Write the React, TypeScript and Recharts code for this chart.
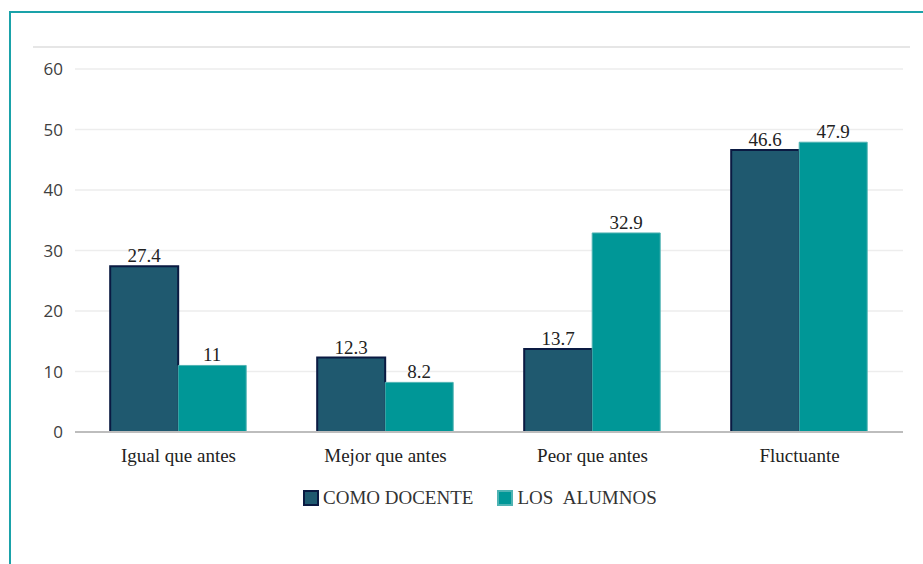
import { BarChart, Bar, XAxis, YAxis, CartesianGrid, Legend, LabelList } from "recharts"

const categorias = ["Igual que antes", "Mejor que antes", "Peor que antes", "Fluctuante"]
const comoDocente = [27.4, 12.3, 13.7, 46.6]
const losAlumnos = [11, 8.2, 32.9, 47.9]
const ticksY = [0, 10, 20, 30, 40, 50, 60]

const SERIF = '"Liberation Serif", "Times New Roman", serif'
const SANS = '"Open Sans", "Noto Sans", sans-serif'

const data = categorias.map((categoria, i) => ({
  categoria,
  docente: comoDocente[i],
  alumnos: losAlumnos[i],
}))

// Leyenda propia: cuadrito + texto en serif
function Leyenda() {
  const items = [
    { label: "COMO DOCENTE", fill: "#1f596f", stroke: "#0a1a42" },
    { label: "LOS\u00a0\u00a0ALUMNOS", fill: "#009797", stroke: "#4fb3b3" },
  ]
  return (
    <div style={{ display: "flex", alignItems: "center", fontFamily: SERIF, fontSize: 19, color: "#333" }}>
      {items.map((it) => (
        <div key={it.label} style={{ display: "flex", alignItems: "center", marginRight: 24, fontFamily: SERIF }}>
          <span
            style={{
              display: "inline-block",
              width: 12,
              height: 12,
              background: it.fill,
              border: `2px solid ${it.stroke}`,
              marginRight: 4,
            }}
          />
          <span style={{ fontFamily: SERIF }}>{it.label}</span>
        </div>
      ))}
    </div>
  )
}

export default function App() {
  return (
    <div style={{ position: "absolute", left: 0, top: 0, width: 923, height: 564, background: "#fff", overflow: "hidden" }}>
      {/* marco turquesa */}
      <div
        style={{
          position: "absolute",
          left: 9,
          top: 11,
          width: 940,
          height: 600,
          borderLeft: "2px solid #1aa2a9",
          borderTop: "2px solid #1aa2a9",
        }}
      />
      {/* línea gris superior */}
      <div style={{ position: "absolute", left: 33, top: 46, width: 877, height: 2, background: "#e6e6e6" }} />
      <div style={{ position: "absolute", left: 0, top: 0 }}>
        <BarChart
          width={923}
          height={564}
          data={data}
          margin={{ top: 69, right: 20, bottom: 102, left: 15 }}
          barCategoryGap="17%"
          barGap={0}
        >
          <CartesianGrid vertical={false} stroke="#ededed" strokeWidth={1.5} />
          <XAxis
            dataKey="categoria"
            height={30}
            axisLine={{ stroke: "#bdbdbd", strokeWidth: 2 }}
            tickLine={false}
            tickSize={0}
            tickMargin={17}
            tick={{ fill: "#222", fontFamily: SERIF, fontSize: 19 }}
          />
          <YAxis
            width={60}
            domain={[0, 60]}
            ticks={ticksY}
            axisLine={false}
            tickLine={false}
            tickSize={0}
            tickMargin={12}
            tick={{ fill: "#404040", fontFamily: SANS, fontSize: 17 }}
          />
          <Legend
            verticalAlign="middle"
            align="center"
            wrapperStyle={{ left: 303, top: 487, width: "auto" }}
            content={() => <Leyenda />}
          />
          <Bar dataKey="docente" name="COMO DOCENTE" fill="#1f596f" stroke="#0a1a42" strokeWidth={2} isAnimationActive={false}>
            <LabelList dataKey="docente" position="top" offset={4} fill="#222" fontFamily={SERIF} fontSize={19} />
          </Bar>
          <Bar dataKey="alumnos" name="LOS  ALUMNOS" fill="#009797" stroke="#4fb3b3" strokeWidth={1} isAnimationActive={false}>
            <LabelList dataKey="alumnos" position="top" offset={4} fill="#222" fontFamily={SERIF} fontSize={19} />
          </Bar>
        </BarChart>
      </div>
    </div>
  )
}
